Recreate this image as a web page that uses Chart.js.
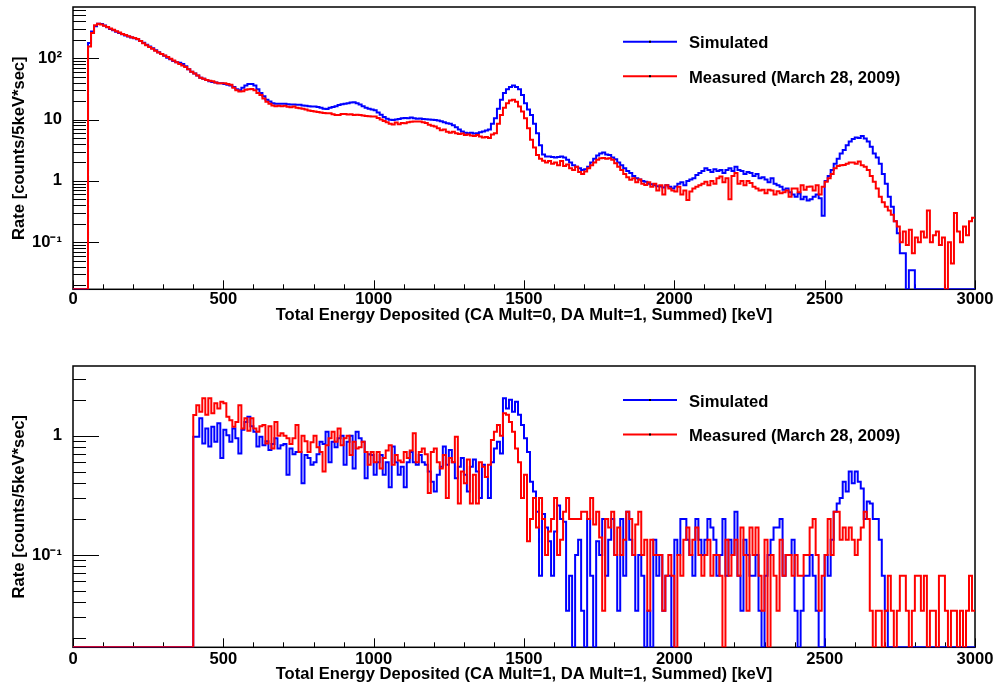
<!DOCTYPE html>
<html>
<head>
<meta charset="utf-8">
<script src="https://cdn.jsdelivr.net/npm/chart.js@4/dist/chart.umd.min.js"></script>
<style>
  html, body { margin: 0; padding: 0; background: #fff; }
  canvas { display: block; }
</style>
</head>
<body>
<canvas id="topChart" width="997" height="344"></canvas>
<canvas id="bottomChart" width="997" height="345"></canvas>
<script>
// Histogram bins are 10 keV wide
const binWidth = 10;
const xTickStep = 500;

// Top: CA Mult=0, DA Mult=1 (first bin starts at 50 keV)
const topStart = 50;
const topSimulated = [
    176, 273, 330, 363, 360,
    340, 320, 300, 285, 270, 258, 245, 235, 225, 218,
    212, 203, 190, 178, 165, 155, 145, 135, 125, 117,
    109, 102, 96, 90, 86, 84, 80, 74, 66, 60,
    56, 52, 48, 46, 44, 42, 41, 40, 39, 39,
    38, 37, 36, 34, 31, 30, 33, 36, 38, 38,
    36, 31, 27, 24, 21, 19.7, 18.5, 18, 18, 18,
    18, 17.8, 17.6, 17.5, 17.4, 17.4, 17, 16.8, 16.5, 16.3,
    16.3, 16, 15.5, 15, 14.8, 15.5, 16, 16.5, 17.2, 17.8,
    18, 18.5, 19, 19.2, 18.5, 17.5, 16.5, 15.5, 15, 14.5,
    14.2, 13, 12, 11, 10.3, 9.9, 9.8, 10, 10.2, 10.5,
    10.6, 10.5, 10.8, 10.5, 10.3, 10.4, 10.2, 10.1, 10, 9.9,
    9.8, 9.6, 9.4, 9.0, 8.7, 8.5, 8.1, 7.5, 6.9, 6.4,
    6.1, 6.0, 6.1, 5.9, 6.0, 6.2, 6.4, 6.6, 6.9, 8.5,
    10.5, 15, 21, 27, 31, 34, 36, 34, 31, 25,
    18.5, 14.5, 11.9, 8.5, 6.0, 3.8, 2.7, 2.5, 2.5, 2.45,
    2.4, 2.45, 2.5, 2.4, 2.2, 2.0, 1.8, 1.7, 1.6, 1.5,
    1.55, 1.7, 2.0, 2.3, 2.6, 2.8, 2.9, 2.7, 2.65, 2.4,
    2.25, 2.0, 1.8, 1.6, 1.45, 1.34, 1.2, 1.1, 1.05, 1.0,
    0.97, 0.9, 0.88, 0.85, 0.82, 0.81, 0.78, 0.85, 0.8, 0.75,
    0.81, 0.9, 0.95, 0.85, 1.0, 1.05, 1.1, 1.25, 1.35, 1.45,
    1.6, 1.5, 1.4, 1.55, 1.45, 1.5, 1.35, 1.5, 1.6, 1.45,
    1.7, 1.5, 1.45, 1.3, 1.4, 1.35, 1.2, 1.3, 1.1, 1.15,
    1.05, 0.95, 1.1, 0.9, 0.85, 0.8, 0.72, 0.75, 0.65, 0.6,
    0.55, 0.62, 0.5, 0.55, 0.48, 0.5, 0.55, 0.6, 0.52, 0.27,
    1.0, 1.2, 1.5, 1.9, 2.3, 2.8, 3.2, 3.8, 4.4, 4.8,
    5.1, 5.0, 5.4, 4.9, 4.4, 3.6, 2.8, 2.4, 1.9, 1.3,
    0.9, 0.55, 0.38, 0.22, 0.14, 0.066, 0.066, 0, 0.035, 0.035,
    0, 0, 0, 0, 0, 0, 0, 0, 0, 0,
    0, 0, 0, 0, 0, 0, 0, 0, 0, 0
];
const topMeasured = [
    155, 256, 345, 363, 355,
    337, 322, 305, 290, 275, 262, 248, 238, 228, 220,
    213, 205, 190, 175, 162, 152, 142, 132, 124, 117,
    110, 104, 98, 92, 86, 80, 76, 72, 66, 60,
    56, 52, 48, 46, 44, 43, 42, 40, 39, 39,
    39, 38, 37, 33, 30, 28.6, 29, 30.5, 31, 31.5,
    30, 27, 25, 22, 19.5, 18, 17, 16.5, 16.8, 16.5,
    16.7, 16.2, 15.8, 16.3, 15.5, 15.3, 15, 14.5, 14, 13.8,
    13.5, 13.2, 13, 12.8, 12.7, 12.7, 12.2, 11.9, 11.9, 12.3,
    12.3, 12.1, 12.2, 11.9, 12, 11.9, 11.6, 11.4, 11.3, 11.2,
    11.2, 10.6, 10, 9.5, 9, 8.5, 8.3, 8.9, 8.4, 8.8,
    8.7, 9.0, 9.2, 9.3, 9.3, 9.3, 9.0, 8.8, 8.2, 7.9,
    7.7, 7.2, 6.7, 6.9, 6.3, 6.1, 6.3, 6.0, 5.8, 5.9,
    5.6, 5.7, 5.5, 5.4, 5.6, 5.3, 5.1, 5.2, 5.0, 5.7,
    6.0, 8.5, 11.9, 15.5, 18.5, 20.5, 21, 19.5, 16.3, 13.5,
    10.5, 7.2, 4.7, 3.5, 2.65, 2.3, 2.12, 2.0, 2.1, 1.9,
    2.0, 1.8, 2.1, 1.75, 1.85, 1.61, 1.5, 1.7, 1.4, 1.3,
    1.42, 1.6, 1.8, 2.0, 2.2, 2.34, 2.35, 2.3, 2.34, 2.2,
    1.94, 1.7, 1.5, 1.3, 1.15, 1.04, 1.1, 0.95, 1.05, 0.9,
    0.86, 0.95, 0.8, 0.9, 0.7, 0.85, 0.6, 0.85, 0.75, 0.7,
    0.67, 0.8, 0.6, 0.7, 0.49, 0.67, 0.75, 0.8, 0.85, 0.9,
    0.97, 0.85, 1.0, 0.9, 1.1, 1.18, 0.95, 1.1, 0.5, 1.2,
    1.34, 0.9, 1.0, 0.85, 1.0, 0.92, 0.8, 0.75, 0.7, 0.72,
    0.63, 0.72, 0.7, 0.6, 0.68, 0.63, 0.65, 0.7, 0.55, 0.75,
    0.75, 0.65, 0.85, 0.72, 0.8, 0.81, 0.7, 0.85, 0.6, 0.8,
    0.97, 1.1, 1.3, 1.6, 1.75, 1.8, 1.82, 1.9, 1.99, 2.0,
    1.9, 2.07, 1.8, 1.7, 1.51, 1.2, 0.97, 0.75, 0.55, 0.45,
    0.38, 0.33, 0.28, 0.22, 0.18, 0.1, 0.15, 0.09, 0.16, 0.066,
    0.12, 0.1, 0.15, 0.12, 0.33, 0.1, 0.13, 0.15, 0.09, 0.12,
    0, 0.1, 0.045, 0.3, 0.15, 0.1, 0.18, 0.13, 0.22, 0.25
];

// Bottom: CA Mult=1, DA Mult=1 (first bin starts at 400 keV)
const bottomStart = 400;
const bottomSimulated = [
    0.98, 0.98, 1.4, 0.86, 1.15, 0.81, 1.19, 0.89, 1.27, 0.65,
    1.12, 1.01, 0.89, 1.15, 0.95, 0.71, 1.12, 1.3, 1.44, 1.2,
    1.08, 0.81, 0.98, 0.83, 0.9, 0.76, 0.85, 0.95, 0.78, 0.83,
    0.85, 0.47, 0.78, 0.7, 0.73, 0.73, 0.4, 0.69, 0.65, 0.57,
    0.6, 0.7, 0.89, 0.85, 1.08, 0.6, 0.89, 0.8, 0.95, 1.0,
    0.57, 0.89, 1.0, 0.53, 1.08, 0.95, 0.89, 0.44, 0.7, 0.69,
    0.47, 0.6, 0.69, 0.47, 0.6, 0.37, 0.81, 0.6, 0.47, 0.55,
    0.37, 0.6, 0.73, 0.6, 0.57, 0.69, 0.6, 0.57, 0.5, 0.41,
    0.34, 0.47, 0.55, 0.81, 0.57, 0.76, 0.6, 0.44, 0.55, 0.65,
    0.47, 0.34, 0.55, 0.63, 0.5, 0.3, 0.57, 0.45, 0.3, 0.6,
    0.78, 0.89, 0.71, 2.06, 1.69, 2.0, 1.59, 1.93, 1.5, 1.23,
    0.95, 0.73, 0.41, 0.34, 0.23, 0.067, 0.22, 0.17, 0.13, 0.067,
    0.157, 0.26, 0.2, 0.19, 0.034, 0.067, 0, 0.1, 0.134, 0.034,
    0, 0.2, 0.067, 0, 0.13, 0.1, 0.2, 0.067, 0.134, 0.2,
    0.1, 0.034, 0.2, 0.067, 0.23, 0.134, 0.1, 0.034, 0.1, 0.067,
    0, 0.034, 0, 0.134, 0.067, 0.1, 0.034, 0.067, 0.067, 0,
    0.134, 0.1, 0.2, 0.2, 0.134, 0.1, 0.067, 0.2, 0.134, 0.1,
    0.134, 0.2, 0.17, 0.134, 0.067, 0.1, 0.2, 0.067, 0.134, 0.1,
    0.23, 0.067, 0.034, 0.134, 0.1, 0.067, 0.067, 0.1, 0.034, 0,
    0.067, 0.1, 0.134, 0.17, 0.17, 0.2, 0.067, 0.1, 0.1, 0.134,
    0.034, 0, 0.034, 0.067, 0.067, 0.1, 0.067, 0.034, 0, 0,
    0.1, 0.067, 0.134, 0.23, 0.27, 0.3, 0.41, 0.34, 0.5, 0.4,
    0.5, 0.41, 0.36, 0.2, 0.28, 0.27, 0.2, 0.2, 0.134, 0.067,
    0.034, 0, 0, 0, 0, 0, 0, 0, 0, 0,
    0, 0, 0, 0, 0, 0, 0, 0, 0, 0,
    0, 0, 0, 0, 0, 0, 0, 0, 0, 0
];
const bottomMeasured = [
    1.49, 1.8, 1.59, 2.06, 1.5, 2.06, 1.54, 1.87, 1.69, 1.93,
    1.87, 1.44, 1.35, 1.19, 1.3, 1.8, 1.15, 1.4, 1.1, 1.4,
    1.15, 1.08, 1.2, 1.23, 0.86, 1.2, 0.78, 1.3, 1.0, 1.05,
    1.0, 0.95, 0.85, 0.95, 1.23, 0.73, 1.0, 0.9, 0.73, 0.88,
    1.0, 0.8, 0.73, 0.5, 0.83, 0.95, 1.08, 0.89, 1.15, 0.83,
    0.95, 1.0, 0.69, 0.89, 0.78, 0.8, 0.89, 0.73, 0.57, 0.73,
    0.6, 0.73, 0.53, 0.65, 0.75, 0.83, 0.57, 0.69, 0.62, 0.6,
    0.73, 0.65, 0.75, 1.05, 0.6, 0.73, 0.78, 0.7, 0.33, 0.73,
    0.78, 0.6, 0.53, 0.69, 0.3, 0.65, 0.6, 0.98, 0.27, 0.5,
    0.4, 0.63, 0.27, 0.47, 0.27, 0.6, 0.55, 0.45, 0.57, 0.92,
    1.08, 1.23, 1.0, 1.54, 1.5, 1.3, 1.08, 0.78, 0.6, 0.3,
    0.47, 0.13, 0.2, 0.3, 0.17, 0.3, 0.2, 0.1, 0.157, 0.2,
    0.3, 0.1, 0.134, 0.23, 0.3, 0.2, 0.2, 0.2, 0.2, 0.23,
    0.23, 0.2, 0.3, 0.18, 0.23, 0.14, 0.034, 0.2, 0.17, 0.23,
    0.1, 0.17, 0.1, 0.134, 0.23, 0.2, 0.1, 0.18, 0.23, 0.1,
    0.134, 0.034, 0.134, 0.1, 0.1, 0.1, 0.034, 0.067, 0.1, 0.067,
    0, 0.1, 0.067, 0.134, 0.17, 0.1, 0.134, 0.17, 0.1, 0.067,
    0.1, 0.134, 0.067, 0.1, 0.1, 0.067, 0, 0.134, 0.067, 0.1,
    0.134, 0.067, 0.17, 0.1, 0.034, 0.17, 0.1, 0.17, 0.067, 0.034,
    0.134, 0, 0.1, 0.067, 0.034, 0.134, 0.067, 0.1, 0.1, 0.067,
    0.1, 0.067, 0.067, 0.1, 0.1, 0.17, 0.2, 0.1, 0.034, 0.067,
    0.1, 0.2, 0.1, 0.23, 0.23, 0.134, 0.17, 0.134, 0.17, 0.134,
    0.1, 0.134, 0.17, 0.23, 0.2, 0.034, 0, 0.034, 0.034, 0,
    0.034, 0.067, 0.034, 0, 0.034, 0.067, 0.067, 0.034, 0, 0.034,
    0.067, 0.067, 0.034, 0.067, 0, 0.034, 0.034, 0, 0.067, 0.067,
    0.034, 0, 0.034, 0.034, 0, 0.034, 0, 0.034, 0.067, 0.034
];

// Axis ranges and tick labels
const xMin = 0, xMax = 3000;
const topYRange = [0.0171, 682];
const bottomYRange = [0.0168, 3.84];
const topYTicks = [0.1, 1, 10, 100];
const topYLabels = ['10\u207B\u00B9', '1', '10', '10\u00B2'];
const bottomYTicks = [0.1, 1];
const bottomYLabels = ['10\u207B\u00B9', '1'];

const seriesNames = ['Simulated', 'Measured (March 28, 2009)'];
const yTitle = 'Rate [counts/5keV*sec]';
const topXTitle = 'Total Energy Deposited (CA Mult=0, DA Mult=1, Summed) [keV]';
const bottomXTitle = 'Total Energy Deposited (CA Mult=1, DA Mult=1, Summed) [keV]';

const BLUE = '#0000ff';
const RED = '#ff0000';

Chart.defaults.font.family = "'Liberation Sans', Arial, Helvetica, sans-serif";
Chart.defaults.font.size = 16.6;
Chart.defaults.font.weight = 'bold';
Chart.defaults.color = '#000';

// ROOT-style histogram: step at each bin edge, flat at zero before the first bin
function histPoints(start, values) {
    const pts = [{ x: xMin, y: 0 }];
    values.forEach((v, i) => pts.push({ x: start + i * binWidth, y: v }));
    pts.push({ x: start + values.length * binWidth, y: values[values.length - 1] });
    return pts;
}

// frame, inward ticks and the legend box, drawn like ROOT does
const rootFrame = {
    id: 'rootFrame',
    beforeDatasetsDraw(chart) {
        const { ctx, chartArea: a, scales: { x, y } } = chart;
        ctx.save();
        ctx.strokeStyle = '#000';
        ctx.lineWidth = 1;
        ctx.beginPath();
        for (let e = xMin; e <= xMax; e += 100) {
            const px = Math.round(x.getPixelForValue(e)) + 0.5;
            const len = e % xTickStep === 0 ? 9 : 5;
            ctx.moveTo(px, a.bottom);
            ctx.lineTo(px, a.bottom - len);
        }
        const d0 = Math.floor(Math.log10(y.min));
        const d1 = Math.ceil(Math.log10(y.max));
        for (let d = d0; d <= d1; d++) {
            for (let m = 1; m <= 9; m++) {
                const v = m * Math.pow(10, d);
                if (v < y.min || v > y.max) continue;
                const py = Math.round(y.getPixelForValue(v)) + 0.5;
                ctx.moveTo(a.left, py);
                ctx.lineTo(a.left + (m === 1 ? 26 : 13), py);
            }
        }
        ctx.stroke();
        ctx.lineWidth = 1.5;
        ctx.strokeRect(a.left, a.top, a.right - a.left, a.bottom - a.top);
        ctx.restore();
    },
    afterDatasetsDraw(chart, args, opts) {
        const { ctx, chartArea: a } = chart;
        const colors = [BLUE, RED];
        ctx.save();
        ctx.font = "bold 16.6px 'Liberation Sans', Arial, sans-serif";
        ctx.textBaseline = 'alphabetic';
        ctx.textAlign = 'left';
        seriesNames.forEach((name, i) => {
            const ly = a.top + opts.top + i * opts.gap;
            ctx.strokeStyle = colors[i];
            ctx.lineWidth = 2;
            ctx.beginPath();
            ctx.moveTo(opts.lineFrom, ly);
            ctx.lineTo(opts.lineTo, ly);
            ctx.stroke();
            ctx.fillStyle = '#000';
            ctx.fillRect((opts.lineFrom + opts.lineTo) / 2 - 1, ly - 1, 2, 2);
            ctx.fillText(name, opts.textX, ly + 6.5);
        });
        ctx.restore();
    }
};

function makeChart(id, cfg) {
    return new Chart(document.getElementById(id), {
        type: 'line',
        data: {
            datasets: [
                {
                    label: seriesNames[0],
                    data: histPoints(cfg.start, cfg.sim),
                    borderColor: BLUE,
                    order: 1
                },
                {
                    label: seriesNames[1],
                    data: histPoints(cfg.start, cfg.meas),
                    borderColor: RED,
                    order: 0
                }
            ]
        },
        options: {
            responsive: false,
            animation: false,
            events: [],
            parsing: false,
            layout: { padding: { left: 0, top: cfg.top, right: 22, bottom: 0 } },
            elements: {
                line: { borderWidth: 2, tension: 0, stepped: true, fill: false },
                point: { radius: 0 }
            },
            plugins: {
                legend: { display: false },
                tooltip: { enabled: false },
                rootFrame: { top: cfg.legendTop, gap: 34.5, lineFrom: 623, lineTo: 677, textX: 689 }
            },
            scales: {
                x: {
                    type: 'linear',
                    min: xMin,
                    max: xMax,
                    bounds: 'data',
                    afterFit: s => {
                        s.height = cfg.xHeight;
                        s.paddingLeft = 0;
                        s.paddingRight = 0;
                    },
                    ticks: {
                        stepSize: xTickStep,
                        autoSkip: false,
                        maxRotation: 0,
                        padding: cfg.xLabelPad,
                        callback: v => String(v)
                    },
                    grid: { display: false, drawTicks: false },
                    border: { display: false },
                    title: { display: true, text: cfg.xTitle, padding: { top: 0, bottom: cfg.xTitlePad } }
                },
                y: {
                    type: 'logarithmic',
                    min: cfg.yRange[0],
                    max: cfg.yRange[1],
                    bounds: 'data',
                    afterFit: s => {
                        s.width = 73;
                        s.paddingTop = 0;
                        s.paddingBottom = 0;
                    },
                    afterBuildTicks: s => { s.ticks = cfg.yTicks.map(v => ({ value: v })); },
                    ticks: { autoSkip: false, padding: 11, callback: (v, i) => cfg.yLabels[i] },
                    grid: { display: false, drawTicks: false },
                    border: { display: false },
                    title: { display: true, text: yTitle, padding: { top: 9.5, bottom: 0 } }
                }
            }
        },
        plugins: [rootFrame]
    });
}

makeChart('topChart', {
    start: topStart, sim: topSimulated, meas: topMeasured,
    yRange: topYRange, yTicks: topYTicks, yLabels: topYLabels,
    xTitle: topXTitle, top: 7, xHeight: 54.7, xLabelPad: 0, xTitlePad: 19,
    legendTop: 34.7
});

makeChart('bottomChart', {
    start: bottomStart, sim: bottomSimulated, meas: bottomMeasured,
    yRange: bottomYRange, yTicks: bottomYTicks, yLabels: bottomYLabels,
    xTitle: bottomXTitle, top: 22, xHeight: 41.7, xLabelPad: 2, xTitlePad: 5,
    legendTop: 34
});
</script>
</body>
</html>
